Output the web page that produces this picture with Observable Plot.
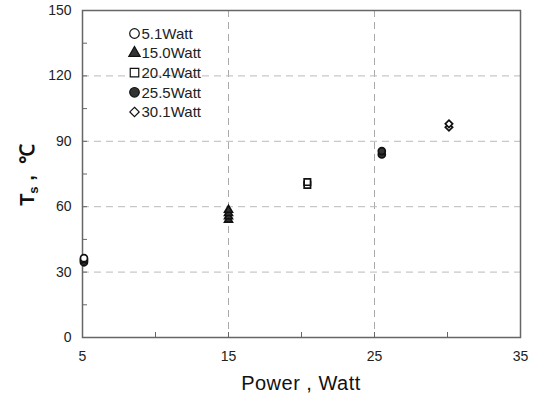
<!DOCTYPE html>
<html>
<head>
<meta charset="utf-8">
<script src="https://cdn.jsdelivr.net/npm/d3@7"></script>
<script src="https://cdn.jsdelivr.net/npm/@observablehq/plot@0.6"></script>
<style>
  body { margin: 0; background: #fff; }
  svg { font-family: "Liberation Sans", Arial, sans-serif; }
</style>
</head>
<body>
<div id="chart"></div>
<script>
// Series (power level) names and symbols
const seriesNames = ["5.1Watt", "15.0Watt", "20.4Watt", "25.5Watt", "30.1Watt"];
const seriesPower = [5.1, 15.0, 20.4, 25.5, 30.1];
const seriesSymbol = ["circle", "triangle", "square", "circle", "diamond2"];
const seriesFill = ["white", "#333", "white", "#333", "white"];
const seriesR = [5.7, 3.9, 6.0, 5.7, 5.0];
// Measured Ts values (overlapping repeat points) for each power level
const ts51 = [34.5, 35.2, 35.8, 36.4];
const ts150 = [54.0, 55.5, 57.0, 58.5];
const ts204 = [70.0, 71.3];
const ts255 = [84.0, 85.5];
const ts301 = [96.5, 98.0];
const tsValues = [ts51, ts150, ts204, ts255, ts301];
// Axis ticks
const xTicks = [5, 15, 25, 35];
const xMinorTicks = [10, 15, 20, 25, 30];
const yTicks = [0, 30, 60, 90, 120, 150];
const yMinorTicks = [15, 30, 45, 60, 75, 90, 105, 120, 135];
const xGrid = [15, 25];
const yGrid = [30, 60, 90, 120];

const points = [];
seriesNames.forEach((name, i) => {
  tsValues[i].forEach(v => points.push({series: name, power: seriesPower[i], ts: v, i}));
});

const legendR = [4.8, 4.2, 4.8, 4.8, 4.2];
const legendMarks = seriesNames.flatMap((name, i) => [
  Plot.dot([name], {
    frameAnchor: "top-left", dx: 52, dy: 23 + i * 19.6,
    symbol: () => seriesSymbol[i], r: legendR[i],
    fill: seriesFill[i], stroke: "#111", strokeWidth: 1.2
  }),
  Plot.text([name], {
    frameAnchor: "top-left", dx: 59, dy: 23.5 + i * 19.6,
    text: d => d, textAnchor: "start", lineAnchor: "middle", fontSize: 15, fill: "#222"
  })
]);

const chart = Plot.plot({
  width: 533,
  height: 399,
  marginLeft: 82,
  marginRight: 13,
  marginTop: 10,
  marginBottom: 62,
  style: {fontFamily: "'Liberation Sans', Arial, sans-serif", background: "white"},
  x: {domain: [5, 35]},
  y: {domain: [0, 150]},
  symbol: {type: "identity"},
  marks: [
    Plot.ruleX(xGrid, {stroke: "#aaa", strokeDasharray: "7,5", strokeWidth: 1}),
    Plot.ruleY(yGrid, {stroke: "#bbb", strokeDasharray: "7,5", strokeWidth: 1}),
    Plot.axisX({ticks: xTicks, tickSize: 0, tickPadding: 14, fontSize: 14, label: null, color: "#222"}),
    Plot.axisY({ticks: yTicks, tickSize: 0, tickPadding: 11, fontSize: 14, label: null, color: "#222"}),
    Plot.axisX({ticks: xMinorTicks, tickSize: -5, text: null, label: null, stroke: "#666", tickFormat: null}),
    Plot.axisY({ticks: yMinorTicks, tickSize: -5, text: null, label: null, stroke: "#666", tickFormat: null}),
    Plot.frame({stroke: "#666", strokeWidth: 1.5}),
    Plot.dot(points, {
      x: "power", y: "ts",
      symbol: d => seriesSymbol[d.i],
      fill: d => seriesFill[d.i],
      r: d => seriesR[d.i],
      stroke: "#111", strokeWidth: 1.7
    }),
    ...legendMarks
  ]
});

const svg = d3.select(chart);
// Axis titles
svg.append("text")
  .attr("x", 301).attr("y", 390)
  .attr("text-anchor", "middle")
  .attr("font-size", 20).attr("fill", "#111")
  .attr("letter-spacing", 0.5)
  .text("Power , Watt");
const yl = svg.append("text")
  .attr("transform", "translate(34,175) rotate(-90)")
  .attr("text-anchor", "middle")
  .attr("font-size", 20).attr("font-weight", "bold").attr("fill", "#111");
yl.append("tspan").text("T");
yl.append("tspan").attr("font-size", 13).attr("dy", 4).text("s");
yl.append("tspan").attr("dy", -4).text(" ,  ℃");

document.getElementById("chart").appendChild(chart);
</script>
</body>
</html>
